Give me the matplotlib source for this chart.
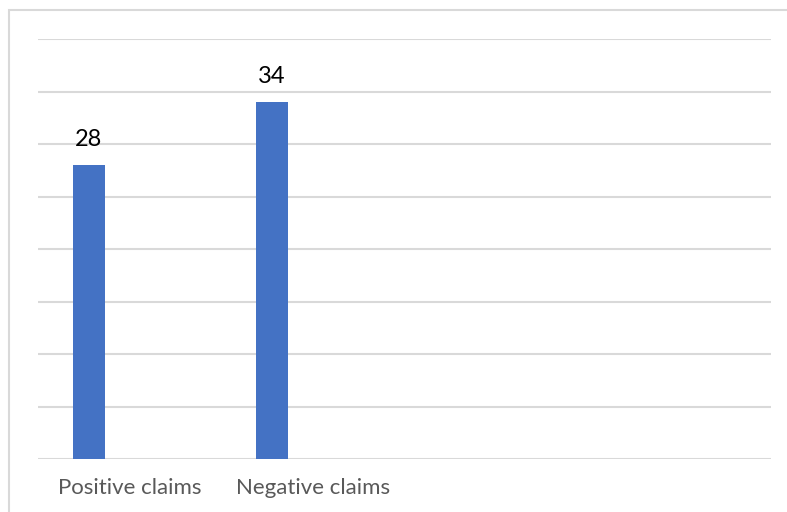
import matplotlib.pyplot as plt
import numpy as np
from matplotlib.patches import Rectangle

categories = ["Positive claims", "Negative claims", "", ""]
values = [28, 34]

BAR_COLOR = "#4472C4"
GRID_COLOR = "#D9D9D9"
TEXT_COLOR = "#595959"

plt.rcParams["font.family"] = ["Lato", "DejaVu Sans"]

fig = plt.figure(figsize=(7.87, 5.12), dpi=100)

# chart frame, runs past the right and bottom edges
fig.patches.append(Rectangle((9 / 787, -0.1), 1.2, 1 - 10 / 512 + 0.1,
                             transform=fig.transFigure, fill=False,
                             edgecolor=GRID_COLOR, linewidth=1.5))

ax = fig.add_axes([38 / 787, 53 / 512, 733 / 787, 420 / 512])

x = np.arange(len(categories))
offset = -0.224
bars = ax.bar(x[:len(values)] + offset, values, width=0.175,
              color=BAR_COLOR, zorder=3)

for bar, v in zip(bars, values):
    ax.annotate(str(v), (bar.get_x() + bar.get_width() / 2, v),
                xytext=(0, 13.5), textcoords="offset points",
                ha="center", va="baseline", fontsize=17, color="#000000")

ax.set_xlim(-0.5, len(categories) - 0.5)
ax.set_ylim(0, 40)
ax.set_yticks(np.arange(0, 41, 5))
ax.yaxis.grid(True, color=GRID_COLOR, linewidth=1.5)
ax.set_axisbelow(True)
ax.tick_params(axis="y", left=False, labelleft=False)
ax.set_xticks(x)
ax.set_xticklabels(categories, fontsize=16, color=TEXT_COLOR)
ax.tick_params(axis="x", length=0, pad=14)
for side in ["top", "right", "left", "bottom"]:
    ax.spines[side].set_visible(False)

fig.savefig("out.png", dpi=100)
